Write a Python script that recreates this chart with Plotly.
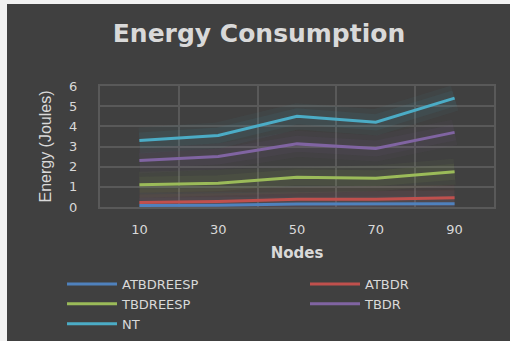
import plotly.graph_objects as go

nodes = ["10", "30", "50", "70", "90"]
atbdreesp = [0.08, 0.09, 0.15, 0.15, 0.16]
atbdr = [0.22, 0.27, 0.38, 0.38, 0.46]
tbdreesp = [1.1, 1.18, 1.47, 1.42, 1.75]
tbdr = [2.3, 2.5, 3.13, 2.9, 3.7]
nt = [3.3, 3.55, 4.5, 4.2, 5.4]

series = [
    ("ATBDREESP", atbdreesp, "#4F81BD"),
    ("ATBDR", atbdr, "#C0504D"),
    ("TBDREESP", tbdreesp, "#9BBB59"),
    ("TBDR", tbdr, "#8064A2"),
    ("NT", nt, "#4BACC6"),
]

fig = go.Figure()
# soft glow behind lines
for name, vals, col in series:
    r, g, b = int(col[1:3], 16), int(col[3:5], 16), int(col[5:7], 16)
    for w, a in [(26, 0.05), (16, 0.07)]:
        fig.add_trace(go.Scatter(x=nodes, y=vals, mode="lines", showlegend=False, hoverinfo="skip",
                                 line=dict(color=f"rgba({r},{g},{b},{a})", width=w)))
for name, vals, col in series:
    fig.add_trace(go.Scatter(x=nodes, y=vals, mode="lines", name=name,
                             line=dict(color=col, width=3)))

W, H = 510, 341
L, R, T, B = 100, 16, 86, 134
pw, ph = W - L - R, H - T - B

def px(xp):
    return (xp - L) / pw

def py(yp):
    return (H - B - yp) / ph

fig.update_layout(
    width=W, height=H,
    margin=dict(l=L, r=R, t=T, b=B, autoexpand=False),
    paper_bgcolor="#404040",
    plot_bgcolor="#404040",
    title=dict(text="<b>Energy Consumption</b>", x=259 / W, xanchor="center",
               y=1 - 33 / H, yanchor="middle",
               font=dict(family="DejaVu Sans", size=25, color="#d9d9d9")),
    xaxis=dict(type="category", range=[-0.5, 4.5], tickson="boundaries", ticks="",
               showgrid=True, gridcolor="#595959", gridwidth=2,
               showline=True, linecolor="#595959", linewidth=2, mirror=True,
               ticklabelstandoff=9,
               tickfont=dict(family="DejaVu Sans", size=13, color="#d9d9d9"),
               title=dict(text="<b>Nodes</b>", standoff=12,
                          font=dict(family="DejaVu Sans", size=15, color="#d9d9d9"))),
    yaxis=dict(range=[0, 6], dtick=1, showgrid=True, gridcolor="#595959", gridwidth=2,
               zeroline=False, showline=True, linecolor="#595959", linewidth=2, mirror=True,
               ticks="", ticklen=0, ticklabelstandoff=18,
               tickfont=dict(family="DejaVu Sans", size=13, color="#d9d9d9"),
               title=dict(text="Energy (Joules)", standoff=14,
                          font=dict(family="Liberation Sans Narrow, Liberation Sans", size=16, color="#d9d9d9"))),
    legend=dict(orientation="h", x=px(62), xanchor="left", y=py(269), yanchor="top",
                entrywidth=178, entrywidthmode="pixels", tracegroupgap=0,
                itemwidth=50,
                font=dict(family="DejaVu Sans", size=13, color="#d9d9d9"),
                bgcolor="rgba(0,0,0,0)"),
    shapes=[
        dict(type="rect", xref="paper", yref="paper", x0=px(0), x1=px(7), y0=py(H), y1=py(0),
             fillcolor="#f2f2f2", line=dict(width=0), layer="below"),
        dict(type="rect", xref="paper", yref="paper", x0=px(0), x1=px(W), y0=py(4), y1=py(0),
             fillcolor="#f2f2f2", line=dict(width=0), layer="below"),
    ],
)

fig.write_html("out.html")
